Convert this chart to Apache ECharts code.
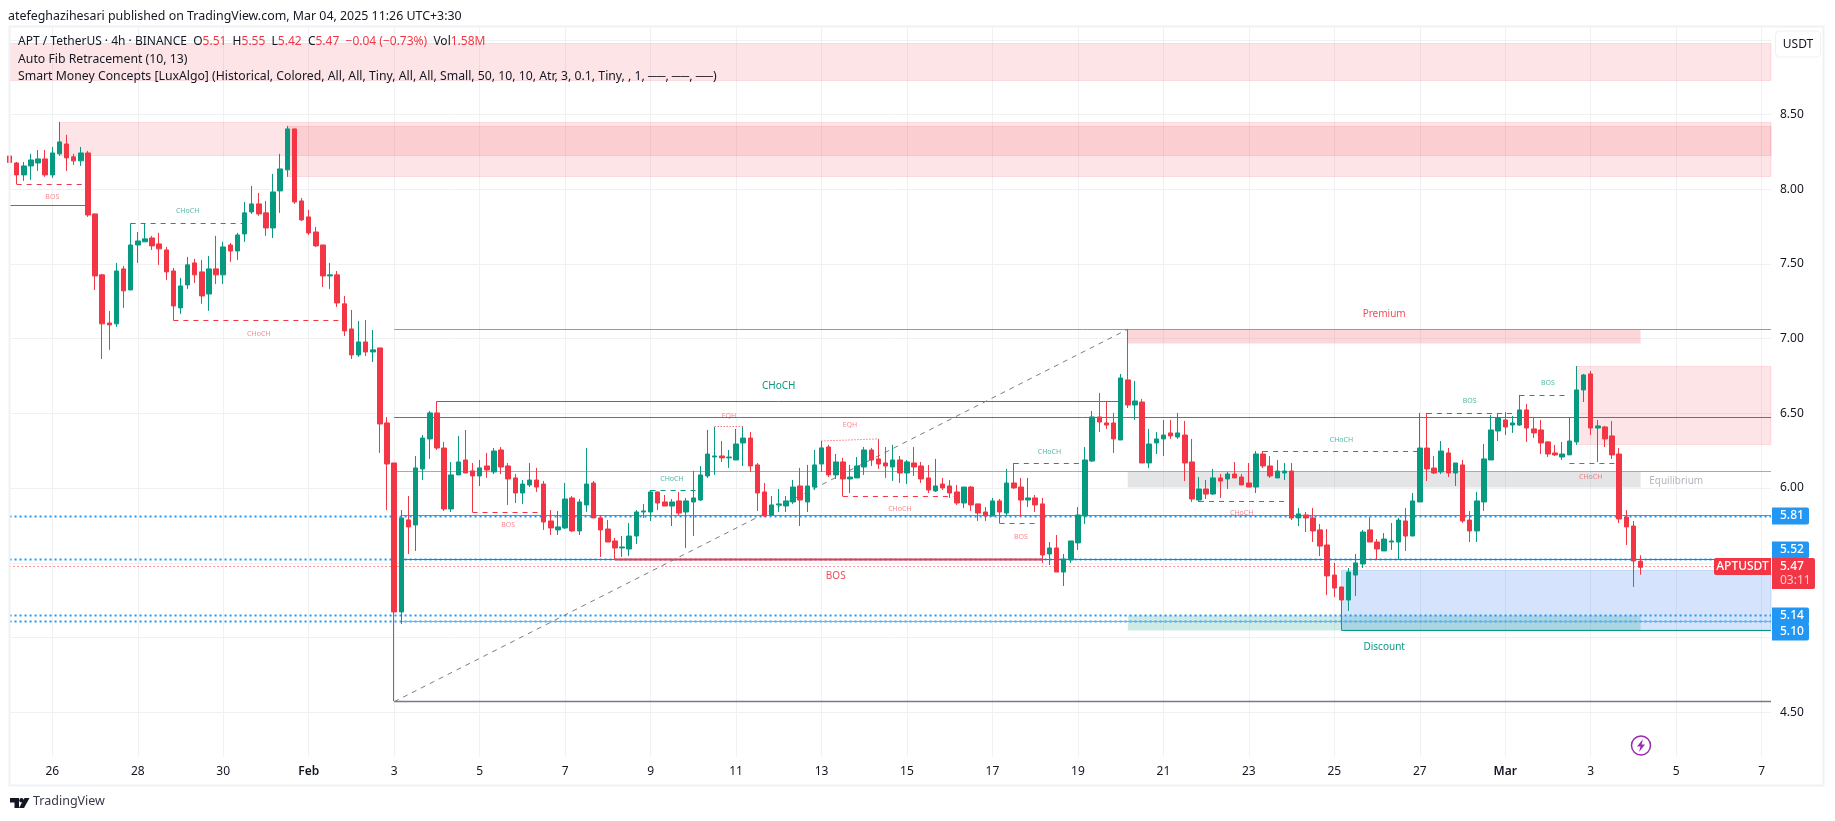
<!DOCTYPE html>
<html>
<head>
<meta charset="utf-8">
<title>APT / TetherUS 4h</title>
<script src="https://cdn.jsdelivr.net/npm/echarts@6/dist/echarts.min.js"></script>
<style>
  html, body { margin: 0; padding: 0; background: #fff; }
  #chart { width: 1835px; height: 821px; }
</style>
</head>
<body>
<div id="chart"></div>
<script>
// 4h candles. index 0 sits on the left edge of the pane
var opens = [
  8.223,8.176,8.096,8.156,8.176,8.203,8.096,8.237,8.303,8.217,
  8.190,8.243,7.835,7.427,7.105,7.099,7.467,7.326,7.627,7.648,
  7.674,7.634,7.594,7.453,7.206,7.360,7.507,7.447,7.299,7.467,
  7.427,7.627,7.587,7.701,7.848,7.902,7.842,7.741,7.989,8.130,
  8.404,7.922,7.815,7.714,7.627,7.420,7.427,7.233,7.065,6.891,
  6.978,6.911,6.938,6.436,6.168,5.171,5.787,5.753,6.128,6.329,
  6.503,6.268,5.860,6.088,6.188,6.115,6.081,6.148,6.108,6.255,
  6.148,6.068,5.967,6.021,6.054,6.027,5.780,5.720,5.733,5.934,
  5.713,5.887,6.034,5.800,5.726,5.646,5.599,5.592,5.679,5.840,
  5.840,5.974,5.907,5.880,5.914,5.840,5.907,5.920,6.081,6.208,
  6.215,6.202,6.188,6.302,6.335,6.155,5.974,5.820,5.887,5.880,
  5.907,6.014,5.907,6.007,6.161,6.275,6.088,6.175,6.061,6.068,
  6.141,6.255,6.195,6.168,6.141,6.188,6.101,6.168,6.148,6.068,
  5.981,6.027,6.014,5.974,5.900,6.007,5.894,5.840,5.813,5.914,
  5.833,6.034,6.007,5.920,5.934,5.894,5.559,5.599,5.438,5.519,
  5.633,5.813,6.181,6.476,6.436,6.436,6.322,6.724,6.556,6.576,
  6.168,6.302,6.329,6.369,6.342,6.355,6.175,5.920,5.994,5.960,
  6.068,6.061,6.094,6.074,6.034,6.007,6.228,6.148,6.068,6.101,
  6.114,5.800,5.820,5.800,5.720,5.619,5.418,5.338,5.251,5.418,
  5.492,5.720,5.639,5.579,5.639,5.639,5.780,5.679,5.907,6.268,
  6.134,6.108,6.235,6.101,6.155,5.786,5.713,5.907,6.188,6.382,
  6.456,6.422,6.422,6.523,6.396,6.389,6.309,6.235,6.208,6.222,
  6.309,6.657,6.764,6.402,6.409,6.349,6.228,5.806,5.746,5.51
];
var closes = [
  8.179,8.096,8.156,8.196,8.203,8.096,8.243,8.317,8.210,8.190,
  8.243,7.828,7.420,7.099,7.092,7.453,7.320,7.627,7.654,7.668,
  7.621,7.601,7.447,7.219,7.353,7.494,7.427,7.286,7.467,7.427,
  7.614,7.587,7.694,7.842,7.902,7.835,7.741,7.982,8.136,8.404,
  7.915,7.795,7.708,7.621,7.420,7.427,7.239,7.052,6.891,6.978,
  6.911,6.925,6.429,6.161,5.171,5.800,5.740,6.135,6.335,6.503,
  6.268,5.860,6.088,6.175,6.101,6.081,6.135,6.121,6.248,6.141,
  6.061,5.967,6.027,6.054,6.007,5.773,5.733,5.740,5.927,5.713,
  5.907,6.027,5.800,5.720,5.639,5.599,5.606,5.679,5.840,5.847,
  5.974,5.900,5.880,5.907,5.833,5.914,5.934,6.088,6.228,6.215,
  6.202,6.208,6.295,6.335,6.148,5.967,5.813,5.887,5.894,5.914,
  6.007,5.920,6.014,6.155,6.269,6.088,6.175,6.061,6.074,6.148,
  6.255,6.188,6.161,6.148,6.188,6.101,6.175,6.141,6.061,5.987,
  6.014,6.001,5.967,5.900,6.007,5.887,5.833,5.813,5.914,5.840,
  6.034,6.001,5.920,5.934,5.887,5.552,5.599,5.438,5.525,5.646,
  5.820,6.188,6.476,6.442,6.422,6.329,6.737,6.556,6.583,6.168,
  6.295,6.329,6.355,6.349,6.369,6.168,5.927,5.994,5.960,6.068,
  6.047,6.094,6.068,6.021,6.007,6.228,6.148,6.081,6.114,6.114,
  5.800,5.827,5.800,5.713,5.612,5.412,5.331,5.251,5.438,5.499,
  5.706,5.639,5.592,5.659,5.646,5.786,5.679,5.914,6.268,6.128,
  6.101,6.248,6.101,6.168,5.780,5.713,5.914,6.195,6.389,6.469,
  6.409,6.436,6.523,6.402,6.369,6.302,6.228,6.222,6.228,6.315,
  6.657,6.757,6.402,6.416,6.329,6.222,5.793,5.740,5.512,5.47
];
var lows = [
  8.056,8.034,8.056,8.063,8.123,8.083,8.076,8.223,8.123,8.163,
  8.156,7.815,7.326,6.864,6.925,7.079,7.206,7.326,7.507,7.648,
  7.594,7.494,7.393,7.123,7.166,7.333,7.373,7.233,7.186,7.366,
  7.366,7.514,7.527,7.648,7.835,7.822,7.688,7.674,7.842,8.083,
  7.902,7.788,7.694,7.614,7.346,7.333,7.212,7.018,6.864,6.878,
  6.884,6.844,6.235,5.853,4.575,5.090,5.559,5.579,6.054,6.195,
  6.255,5.847,5.840,6.088,6.101,5.838,6.014,6.068,6.094,6.094,
  5.887,5.900,5.894,6.007,5.974,5.720,5.686,5.686,5.726,5.706,
  5.686,5.840,5.800,5.539,5.639,5.519,5.539,5.546,5.626,5.800,
  5.780,5.853,5.880,5.746,5.820,5.599,5.679,5.914,6.068,6.088,
  6.175,6.135,6.188,6.148,6.108,5.847,5.807,5.813,5.840,5.840,
  5.894,5.746,5.840,5.987,6.108,6.074,6.061,5.945,5.967,6.068,
  6.088,6.148,6.128,6.068,6.048,6.034,6.027,6.081,6.034,5.967,
  5.974,5.987,5.934,5.887,5.867,5.847,5.780,5.780,5.813,5.764,
  5.813,5.994,5.809,5.873,5.840,5.499,5.485,5.438,5.345,5.499,
  5.586,5.760,6.175,6.375,6.396,6.235,6.322,6.536,6.456,6.168,
  6.134,6.228,6.215,6.329,6.329,6.047,5.907,5.907,5.927,5.954,
  5.934,5.994,6.068,6.021,6.007,5.967,6.134,6.068,6.068,6.054,
  5.786,5.746,5.706,5.639,5.545,5.284,5.271,5.050,5.177,5.278,
  5.465,5.639,5.525,5.579,5.586,5.525,5.579,5.679,5.907,6.047,
  6.094,6.094,6.074,6.014,5.766,5.639,5.639,5.847,6.188,6.315,
  6.355,6.369,6.416,6.309,6.335,6.228,6.208,6.215,6.188,6.222,
  6.289,6.576,6.355,6.175,6.275,6.195,5.766,5.619,5.338,5.42
];
var highs = [
  8.237,8.183,8.183,8.237,8.263,8.263,8.283,8.451,8.364,8.237,
  8.283,8.257,7.835,7.433,7.186,7.507,7.487,7.772,7.714,7.772,
  7.688,7.708,7.614,7.473,7.407,7.547,7.534,7.527,7.554,7.688,
  7.648,7.641,7.708,7.915,8.022,7.976,7.922,8.103,8.237,8.424,
  8.404,7.942,7.862,7.748,7.627,7.507,7.453,7.286,7.192,7.119,
  7.125,7.058,6.938,6.476,6.168,5.853,5.947,6.215,6.355,6.516,
  6.581,6.309,6.175,6.349,6.389,6.168,6.188,6.235,6.268,6.275,
  6.168,6.094,6.054,6.168,6.135,6.048,5.853,5.847,6.034,5.947,
  5.927,6.268,6.048,5.820,5.787,5.666,5.679,5.766,5.853,5.894,
  5.987,5.974,5.954,5.927,5.974,5.934,6.115,6.148,6.389,6.409,
  6.315,6.255,6.396,6.409,6.375,6.168,6.034,5.947,5.994,5.947,
  6.054,6.135,6.155,6.255,6.315,6.289,6.228,6.202,6.155,6.208,
  6.275,6.269,6.329,6.275,6.289,6.215,6.188,6.275,6.175,6.155,
  6.195,6.068,6.054,6.021,6.007,6.014,5.894,5.873,5.934,5.927,
  6.128,6.168,6.068,6.068,5.954,5.934,5.639,5.686,5.559,5.646,
  5.873,6.275,6.516,6.637,6.583,6.503,6.764,7.063,6.717,6.597,
  6.396,6.375,6.456,6.456,6.503,6.449,6.329,6.074,6.054,6.128,
  6.094,6.108,6.175,6.094,6.168,6.248,6.248,6.215,6.188,6.168,
  6.168,5.867,5.840,5.867,5.760,5.726,5.499,5.338,5.465,5.559,
  5.720,5.806,5.659,5.699,5.766,5.800,5.867,5.967,6.503,6.503,
  6.215,6.315,6.268,6.168,6.188,5.847,5.974,6.295,6.489,6.496,
  6.509,6.482,6.623,6.563,6.476,6.456,6.315,6.289,6.309,6.476,
  6.817,6.764,6.784,6.456,6.416,6.449,6.268,5.853,5.780,5.55
];

// axis ticks
var xTicks = [6,18,30,42,54,66,78,90,102,114,126,138,150,162,174,186,198,210,222,234,246];
var xTickLabels = ['26','28','30','Feb','3','5','7','9','11','13','15','17','19','21','23','25','27','Mar','3','5','7'];
var yGrid = [4.5,5,5.5,6,6.5,7,7.5,8,8.5,9];
var yLabels = [4.5,6,6.5,7,7.5,8,8.5];
var xMin = 0, xMax = 247.31;
var yMin = 4.2, yMax = 9.086;

// zones: [from, to, top, bottom, kind]
var zones = [
  [xMin, xMax, 8.973, 8.728, 'supply'],
  [7, xMax, 8.448, 8.225, 'supply'],
  [39, xMax, 8.422, 8.084, 'supply'],
  [220, xMax, 6.817, 6.293, 'supply'],
  [157, 229, 7.063, 6.967, 'premium'],
  [157, 229, 6.112, 6.007, 'equilibrium'],
  [187, xMax, 5.445, 5.048, 'demand'],
  [157, 229, 5.150, 5.048, 'discount']
];

// levels: [from, to, price, kind]
var levels = [
  [54, xMax, 7.063, 'grey'],
  [54, xMax, 4.570, 'greyThick'],
  [60, 156, 6.581, 'teal'],
  [54, xMax, 6.474, 'red'],
  [54, xMax, 6.112, 'lime'],
  [55, xMax, 5.815, 'green'],
  [xMin, xMax, 5.813, 'blueDots'],
  [xMin, xMax, 5.525, 'blueDots'],
  [xMin, xMax, 5.150, 'blueDots'],
  [xMin, xMax, 5.104, 'blueDots'],
  [55, xMax, 5.521, 'teal'],
  [85, 145, 5.519, 'redThick'],
  [55, xMax, 5.104, 'sky'],
  [187, xMax, 5.048, 'teal'],
  [xMin, 11, 7.893, 'red'],
  [xMin, xMax, 5.474, 'lastDots'],
  [1, 11, 8.034, 'redDash'],
  [17, 33, 7.772, 'tealDash'],
  [23, 47, 7.123, 'redDash'],
  [65, 75, 5.838, 'redDash'],
  [90, 97, 5.985, 'tealDash'],
  [117, 132.5, 5.945, 'redDash'],
  [141, 151, 6.166, 'tealDash'],
  [139, 144.3, 5.764, 'redDash'],
  [176, 198, 6.248, 'tealDash'],
  [167, 180, 5.912, 'redDash'],
  [199, 212, 6.501, 'tealDash'],
  [212, 219, 6.622, 'tealDash'],
  [219, 226, 6.166, 'redDash'],
  [99, 103, 6.409, 'redDots']
];
// sloped: [x0, p0, x1, p1, kind]
var slopes = [
  [54, 4.570, 157, 7.063, 'fibDash'],
  [114, 6.315, 122, 6.329, 'redDots']
];

// structure labels: [text, index, price, kind]
var marks = [
  ['BOS', 6, 7.952, 'redTiny'],
  ['CHoCH', 25, 7.863, 'tealTiny'],
  ['CHoCH', 35, 7.039, 'redTiny'],
  ['BOS', 70, 5.762, 'redTiny'],
  ['EQH', 101, 6.489, 'redTiny'],
  ['CHoCH', 93, 6.068, 'tealTiny'],
  ['EQH', 118, 6.429, 'redTiny'],
  ['CHoCH', 125, 5.865, 'redTiny'],
  ['CHoCH', 108, 6.687, 'tealBig'],
  ['BOS', 116, 5.415, 'redBig'],
  ['CHoCH', 146, 6.246, 'tealTiny'],
  ['BOS', 142, 5.680, 'redTiny'],
  ['CHoCH', 187, 6.328, 'tealTiny'],
  ['CHoCH', 173, 5.838, 'redTiny'],
  ['BOS', 205, 6.589, 'tealTiny'],
  ['BOS', 216, 6.711, 'tealTiny'],
  ['CHoCH', 222, 6.082, 'redTiny'],
  ['Premium', 193, 7.17, 'redBig'],
  ['Discount', 193, 4.945, 'tealBig'],
  ['Equilibrium', 234, 6.056, 'greyText']
];

// price scale tags
var tagNames = ['5.81', '5.52', '5.14', '5.10'];
var tagPrices = [5.813, 5.525, 5.150, 5.104];
var tagNudge = [0, -9, 1, 10];
var lastPrice = 5.47;
var lastLabel = '5.47';
var countdown = '03:11';
var symbolName = 'APTUSDT';

var UP = '#089981', DOWN = '#f23645';
var FONT = '"Noto Sans", sans-serif';

var zoneStyle = {
  supply: { fill: 'rgba(242,54,69,0.13)', stroke: 'rgba(242,54,69,0.13)' },
  premium: { fill: 'rgba(242,54,69,0.2)', stroke: 'rgba(242,54,69,0)' },
  equilibrium: { fill: 'rgba(120,123,134,0.2)', stroke: 'rgba(0,0,0,0)' },
  demand: { fill: 'rgba(33,110,240,0.19)', stroke: 'rgba(33,110,240,0.19)' },
  discount: { fill: 'rgba(8,153,129,0.2)', stroke: 'rgba(0,0,0,0)' }
};
var lineStyle = {
  grey: { stroke: '#9598b0', lineWidth: 1 },
  greyThick: { stroke: '#787b86', lineWidth: 1.5 },
  teal: { stroke: UP, lineWidth: 1 },
  red: { stroke: DOWN, lineWidth: 1 },
  redThick: { stroke: DOWN, lineWidth: 2 },
  lime: { stroke: '#81c784', lineWidth: 1 },
  green: { stroke: '#4caf50', lineWidth: 1 },
  sky: { stroke: '#64b5f6', lineWidth: 1 },
  blueDots: { stroke: '#2196f3', lineWidth: 2, lineDash: [2, 3] },
  lastDots: { stroke: DOWN, lineWidth: 1, lineDash: [1, 3] },
  redDash: { stroke: DOWN, lineWidth: 1, lineDash: [5, 5] },
  tealDash: { stroke: UP, lineWidth: 1, lineDash: [5, 5] },
  redDots: { stroke: '#f23645', lineWidth: 1, lineDash: [1, 2] },
  fibDash: { stroke: '#7a7d87', lineWidth: 1, lineDash: [5, 5] }
};
var markStyle = {
  redTiny: { fill: 'rgba(242,54,69,0.6)', fontSize: 7 },
  tealTiny: { fill: 'rgba(8,153,129,0.7)', fontSize: 7 },
  redBig: { fill: 'rgba(242,54,69,0.9)', fontSize: 10 },
  tealBig: { fill: UP, fontSize: 10 },
  greyText: { fill: '#b2b5be', fontSize: 10 }
};

function crisp(v) {
  return Math.round(v - 0.5) + 0.5;
}

// overlays go through the chart's scales via api.coord
function overlay(rows, z, clip, draw) {
  return {
    type: 'custom',
    silent: true,
    clip: clip,
    z: z,
    data: rows.map(function (r, i) { return [i, 5]; }),
    encode: { x: 0, y: 1 },
    renderItem: function (params, api) {
      return draw(rows[params.dataIndex], api);
    }
  };
}

var zoneSeries = overlay(zones, 1, true, function (r, api) {
  var a = api.coord([r[0], r[2]]);
  var b = api.coord([r[1], r[3]]);
  return {
    type: 'rect',
    shape: { x: a[0], y: crisp(a[1]), width: b[0] - a[0], height: Math.round(b[1] - a[1]) },
    style: zoneStyle[r[4]]
  };
});

var levelSeries = overlay(levels, 2, true, function (r, api) {
  var a = api.coord([r[0], r[2]]);
  var b = api.coord([r[1], r[2]]);
  return {
    type: 'line',
    shape: { x1: a[0], y1: crisp(a[1]), x2: b[0], y2: crisp(a[1]) },
    style: Object.assign({ fill: null }, lineStyle[r[3]])
  };
});

var slopeSeries = overlay(slopes, 2, true, function (r, api) {
  var a = api.coord([r[0], r[1]]);
  var b = api.coord([r[2], r[3]]);
  return {
    type: 'line',
    shape: { x1: a[0], y1: a[1], x2: b[0], y2: b[1] },
    style: Object.assign({ fill: null }, lineStyle[r[4]])
  };
});

var markSeries = overlay(marks, 3, true, function (r, api) {
  var a = api.coord([r[1], r[2]]);
  return {
    type: 'text',
    style: {
      x: a[0], y: a[1] + 1, text: r[0], align: 'center', verticalAlign: 'middle',
      fill: markStyle[r[3]].fill,
      font: markStyle[r[3]].fontSize + 'px ' + FONT
    }
  };
});

var tagSeries = overlay(tagNames, 20, false, function (name, api) {
  var i = tagNames.indexOf(name);
  var y = Math.round(api.coord([xMax, tagPrices[i]])[1]) + tagNudge[i];
  var left = api.coord([xMax, 5])[0] + 1;
  return {
    type: 'group',
    children: [
      { type: 'rect', shape: { x: left, y: y - 8.5, width: 37, height: 17, r: [0, 2, 2, 0] }, style: { fill: '#2196f3' } },
      { type: 'text', style: { x: left + 8, y: y, text: name, verticalAlign: 'middle', fill: '#fff', font: '500 12px ' + FONT } }
    ]
  };
});

var lastSeries = overlay([symbolName], 21, false, function (name, api) {
  var p = api.coord([xMax, lastPrice]);
  var y = Math.round(p[1]);
  var left = p[0] + 1;
  return {
    type: 'group',
    children: [
      { type: 'rect', shape: { x: left, y: y - 9, width: 43, height: 31, r: [0, 2, 2, 0] }, style: { fill: DOWN } },
      { type: 'text', style: { x: left + 8, y: y, text: lastLabel, verticalAlign: 'middle', fill: '#fff', font: '500 12px ' + FONT } },
      { type: 'text', style: { x: left + 8, y: y + 14, text: countdown, verticalAlign: 'middle', fill: 'rgba(255,255,255,0.75)', font: '12px ' + FONT } },
      { type: 'rect', shape: { x: left - 58, y: y - 9, width: 57, height: 17, r: [2, 0, 0, 2] }, style: { fill: DOWN } },
      { type: 'text', style: { x: left - 29.5, y: y, text: name, align: 'center', verticalAlign: 'middle', fill: '#fff', font: '500 12px ' + FONT } }
    ]
  };
});

var candles = opens.map(function (o, i) {
  return [i, o, closes[i], lows[i], highs[i]];
});

var chart = echarts.init(document.getElementById('chart'), null, { renderer: 'canvas' });

var option = {
  animation: false,
  backgroundColor: '#ffffff',
  textStyle: { fontFamily: FONT },
  grid: { left: 9.56, top: 27, width: 1761.44, height: 730, containLabel: false },
  xAxis: {
    type: 'value',
    min: xMin,
    max: xMax,
    axisLine: { show: false },
    axisTick: { show: false, customValues: xTicks },
    splitLine: { show: true, lineStyle: { color: '#f0f1f3', width: 1 } },
    axisLabel: {
      customValues: xTicks,
      margin: 9,
      color: '#131722',
      fontSize: 12,
      fontFamily: FONT,
      formatter: function (v) {
        var t = xTickLabels[xTicks.indexOf(v)];
        return isNaN(+t) ? '{b|' + t + '}' : t;
      },
      rich: { b: { fontWeight: 600, fontSize: 12, color: '#131722', fontFamily: FONT } }
    }
  },
  yAxis: {
    type: 'value',
    position: 'right',
    min: yMin,
    max: yMax,
    axisLine: { show: false },
    axisTick: { show: false, customValues: yGrid },
    splitLine: { show: true, lineStyle: { color: '#f0f1f3', width: 1 } },
    axisLabel: {
      customValues: yLabels,
      margin: 9,
      color: '#131722',
      fontSize: 12,
      fontFamily: FONT,
      formatter: function (v) { return v.toFixed(2); }
    }
  },
  series: [
    zoneSeries,
    levelSeries,
    slopeSeries,
    markSeries,
    {
      type: 'candlestick',
      name: 'APTUSDT',
      z: 5,
      barWidth: 5,
      clip: true,
      data: candles,
      itemStyle: { color: UP, color0: DOWN, borderColor: UP, borderColor0: DOWN, borderWidth: 1 }
    },
    tagSeries,
    lastSeries
  ],
  graphic: [
    { type: 'text', left: 8, top: 10, z: 50, style: { text: 'atefeghazihesari published on TradingView.com, Mar 04, 2025 11:26 UTC+3:30', fill: '#131722', font: '12.4px ' + FONT } },
    { type: 'rect', z: 40, shape: { x: 9.5, y: 26.5, width: 1814, height: 759 }, style: { fill: 'none', stroke: '#f0f1f3', lineWidth: 2 } },
    {
      type: 'text', left: 18, top: 36, z: 50,
      style: {
        text: 'APT / TetherUS · 4h · BINANCE  O{r|5.51}  H{r|5.55}  L{r|5.42}  C{r|5.47}  {r|−0.04 (−0.73%)}  Vol{r|1.58M}',
        fill: '#131722', font: '12px ' + FONT,
        rich: { r: { fill: DOWN, font: '12px ' + FONT } }
      }
    },
    { type: 'text', left: 18, top: 54, z: 50, style: { text: 'Auto Fib Retracement (10, 13)', fill: '#131722', font: '12.25px ' + FONT } },
    { type: 'text', left: 18, top: 71, z: 50, style: { text: 'Smart Money Concepts [LuxAlgo] (Historical, Colored, All, All, Tiny, All, All, Small, 50, 10, 10, Atr, 3, 0.1, Tiny, , 1, ──, ──, ──)', fill: '#131722', font: '12.25px ' + FONT } },
    { type: 'rect', z: 50, shape: { x: 1775.5, y: 31, width: 45, height: 26, r: 4 }, style: { fill: '#fff', stroke: '#f0f1f3', lineWidth: 1 } },
    { type: 'text', x: 1798, y: 45, z: 51, style: { text: 'USDT', align: 'center', verticalAlign: 'middle', fill: '#131722', font: '12px ' + FONT } },
    // bolt marker
    { type: 'circle', z: 50, shape: { cx: 1641, cy: 745.5, r: 9.5 }, style: { fill: '#fff', stroke: '#9c27b0', lineWidth: 1.5 } },
    { type: 'polygon', z: 51, shape: { points: [[1643, 739], [1637, 746.5], [1640.5, 746.5], [1639, 752], [1645, 744.5], [1641.5, 744.5]] }, style: { fill: '#9c27b0' } },
    // TradingView logo
    { type: 'polygon', z: 50, shape: { points: [[10, 798], [19, 798], [19, 808], [14.5, 808], [14.5, 802.5], [10, 802.5]] }, style: { fill: '#131722' } },
    { type: 'circle', z: 50, shape: { cx: 21.5, cy: 800.3, r: 2.2 }, style: { fill: '#131722' } },
    { type: 'polygon', z: 50, shape: { points: [[24.5, 798], [29.5, 798], [24, 808], [19, 808]] }, style: { fill: '#131722' } },
    { type: 'text', left: 33, top: 795, z: 50, style: { text: 'TradingView', fill: '#363a45', font: '12.5px ' + FONT } }
  ]
};

chart.setOption(option);
</script>
</body>
</html>
